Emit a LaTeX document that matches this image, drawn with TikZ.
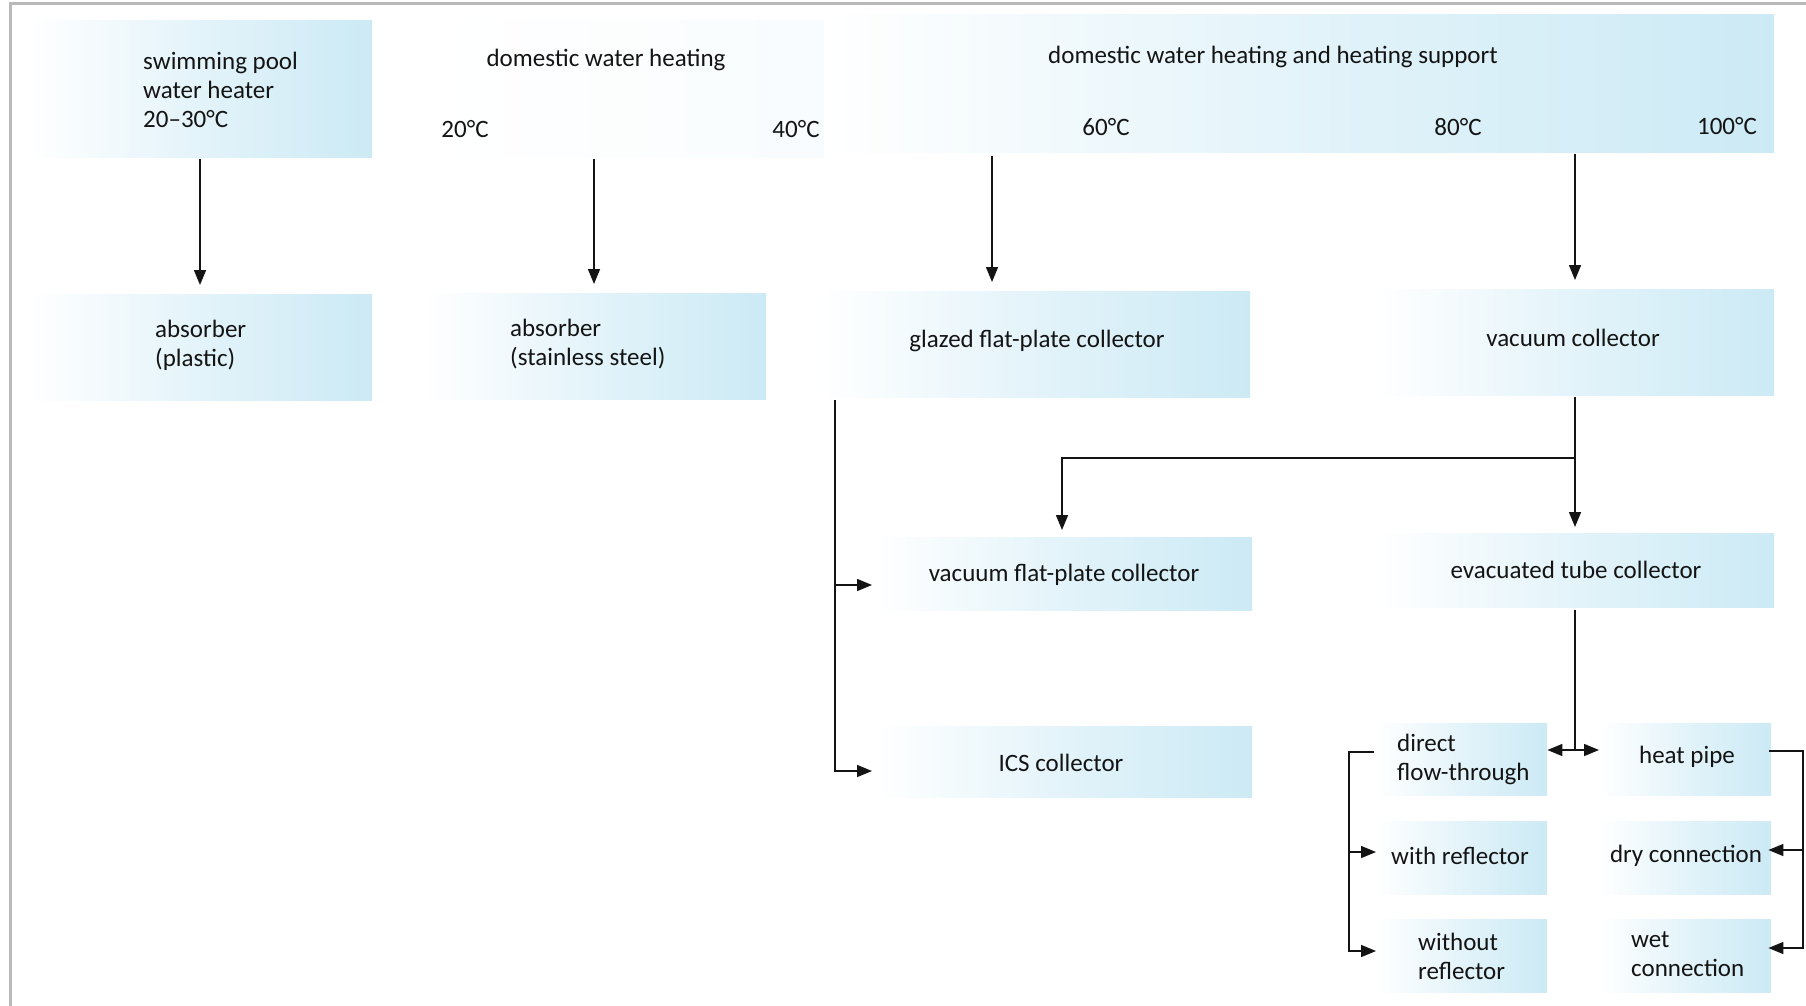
\documentclass[tikz,border=0pt]{standalone}
\usepackage{fontspec}
\setmainfont{Carlito}
\usetikzlibrary{arrows.meta,calc}
\definecolor{boxblue}{RGB}{204,234,245}
\definecolor{ink}{RGB}{20,20,20}
\definecolor{framegray}{RGB}{185,185,185}
\begin{document}
\begin{tikzpicture}[x=1pt, y=-1pt,
  font=\fontsize{25}{29}\selectfont, text=ink,
  box/.style={draw=none, inner sep=0pt, anchor=north west,
    left color=white, right color=boxblue, middle color=boxblue!55},
  faintbox/.style={draw=none, inner sep=0pt, anchor=north west,
    left color=white, right color=boxblue!15, middle color=boxblue!6},
  lbl/.style={inner sep=0pt, align=left},
  conn/.style={draw=ink, line width=1.5pt},
  arr/.style={conn, -{Triangle[length=15pt,width=12pt]}},
  arrtwo/.style={conn, {Triangle[length=15pt,width=12pt]}-{Triangle[length=15pt,width=12pt]}}]
\useasboundingbox[fill=white] (0,0) rectangle (1806,1006);
% frame of the scan
\draw[framegray, line width=3pt] (10,1006) -- (10,4) -- (1806,4);

% boxes
\node[box, minimum width=344pt, minimum height=137pt] (swim) at (28,20) {};
\node[faintbox, minimum width=400pt, minimum height=137pt] (hdrM) at (424,20) {};
\node[box, minimum width=950pt, minimum height=138pt] (hdrR) at (824,14) {};
\node[box, minimum width=344pt, minimum height=106pt] (absP) at (28,294) {};
\node[box, minimum width=343pt, minimum height=106pt] (absS) at (423,293) {};
\node[box, minimum width=430pt, minimum height=106pt] (glazed) at (820,291) {};
\node[box, minimum width=398pt, minimum height=106pt] (vac) at (1376,289) {};
\node[box, minimum width=377pt, minimum height=73pt] (vfp) at (875,537) {};
\node[box, minimum width=398pt, minimum height=74pt] (evac) at (1376,533) {};
\node[box, minimum width=377pt, minimum height=71pt] (ics) at (875,726) {};
\node[box, minimum width=171pt, minimum height=72pt] (direct) at (1376,723) {};
\node[box, minimum width=172pt, minimum height=72pt] (hpipe) at (1599,723) {};
\node[box, minimum width=171pt, minimum height=73pt] (withr) at (1376,821) {};
\node[box, minimum width=172pt, minimum height=73pt] (dry) at (1599,821) {};
\node[box, minimum width=171pt, minimum height=73pt] (without) at (1376,919) {};
\node[box, minimum width=172pt, minimum height=73pt] (wet) at (1599,919) {};

% texts
\node[lbl, anchor=west] (tSwim) at (143,90) {swimming pool\\water heater\\20–30°C};
\node[lbl] (tDom) at (606,60) {domestic water heating};
\node[lbl] (t20) at (465,129) {20°C};
\node[lbl] (t40) at (796,129) {40°C};
\node[lbl] (tDomH) at (1273,57) {domestic water heating and heating support};
\node[lbl] (t60) at (1106,127) {60°C};
\node[lbl] (t80) at (1458,127) {80°C};
\node[lbl] (t100) at (1727,126) {100°C};
\node[lbl, anchor=west] (tAbsP) at (155,345) {absorber\\(plastic)};
\node[lbl, anchor=west] (tAbsS) at (510,344) {absorber\\(stainless steel)};
\node[lbl] (tGl) at (1037,341) {glazed flat-plate collector};
\node[lbl] (tVac) at (1573,338) {vacuum collector};
\node[lbl] (tVfp) at (1064,575) {vacuum flat-plate collector};
\node[lbl] (tEv) at (1576,570) {evacuated tube collector};
\node[lbl] (tIcs) at (1061,763) {ICS collector};
\node[lbl, anchor=west] (tDir) at (1397,759) {direct\\flow-through};
\node[lbl] (tHp) at (1687,757) {heat pipe};
\node[lbl] (tWr) at (1460,856) {with reflector};
\node[lbl] (tDry) at (1686,856) {dry connection};
\node[lbl, anchor=west] (tWo) at (1418,956) {without\\reflector};
\node[lbl, anchor=west] (tWet) at (1631,954) {wet\\connection};

% helper coordinates for connector routes
\coordinate (x1) at (200,0);
\coordinate (x2) at (594,0);
\coordinate (x3) at (992,0);
\coordinate (x4) at (1575,0);
\coordinate (xL) at (835,0);
\coordinate (xV) at (1062,0);
\coordinate (yT) at (0,458);
\coordinate (yA1) at (0,585);
\coordinate (yA2) at (0,771);
\coordinate (yD) at (0,750);
\coordinate (xBL) at (1349,0);
\coordinate (xBR) at (1803,0);
\coordinate (yB0) at (0,752);
\coordinate (yB1) at (0,852);
\coordinate (yB2) at (0,951);
\coordinate (yR0) at (0,751);
\coordinate (yR1) at (0,850);
\coordinate (yR2) at (0,948);

% connectors
\draw[arr, shorten <=2pt, shorten >=9pt] (swim.south -| x1) -- (absP.north -| x1);
\draw[arr, shorten <=2pt, shorten >=9pt] (hdrM.south -| x2) -- (absS.north -| x2);
\draw[arr, shorten <=4pt, shorten >=9pt] (hdrR.south -| x3) -- (glazed.north -| x3);
\draw[arr, shorten <=2pt, shorten >=9pt] (hdrR.south -| x4) -- (vac.north -| x4);

\draw[arr, shorten <=2pt, shorten >=6pt] (vac.south -| x4) -- (evac.north -| x4);
\draw[arr, shorten >=7pt] (x4 |- yT) -- (xV |- yT) -- (vfp.north -| xV);

\draw[arr, shorten <=3pt, shorten >=3pt] (glazed.south -| xL) -- (xL |- yA2) -- (ics.west |- yA2);
\draw[arr, shorten >=3pt] (xL |- yA1) -- (vfp.west |- yA1);

\draw[conn, shorten <=3pt] (evac.south -| x4) -- (x4 |- yD);
\draw[arrtwo] (direct.east |- yD) -- (hpipe.west |- yD);

\draw[arr, shorten <=2pt] (direct.west |- yB0) -- (xBL |- yB0) -- (xBL |- yB2) -- (without.west |- yB2);
\draw[arr] (xBL |- yB1) -- (withr.west |- yB1);

\draw[arr, shorten <=-2pt, shorten >=-3pt] (hpipe.east |- yR0) -- (xBR |- yR0) -- (xBR |- yR2) -- (wet.east |- yR2);
\draw[arr, shorten >=-3pt] (xBR |- yR1) -- (dry.east |- yR1);
\end{tikzpicture}
\end{document}
